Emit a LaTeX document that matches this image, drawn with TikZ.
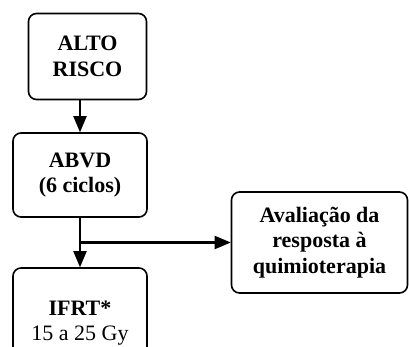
\documentclass[tikz,border=0pt]{standalone}
\usepackage{fontspec}
\setmainfont{Liberation Serif}
\usetikzlibrary{arrows}

\begin{document}
\begin{tikzpicture}[x = 1pt, y = -1pt, font = \fontsize{22}{25.5}\selectfont]
	\tikzstyle{stageStyle} = [shape = rectangle, rounded corners = 8pt, draw, line width = 1.6pt, align = center, inner sep = 0pt]
	\tikzstyle{flowStyle} = [line width = 2.8pt, -triangle 45]
	\useasboundingbox (0,0) rectangle (409,347);
	\node[stageStyle, minimum width = 118pt, minimum height = 86pt] (alto) at (87.5, 56.5) {\textbf{ALTO}\\\textbf{RISCO}};
	\node[stageStyle, minimum width = 134pt, minimum height = 84pt] (abvd) at (80, 175) {\textbf{ABVD}\\\textbf{(6 ciclos)}};
	\node[stageStyle, minimum width = 134pt, minimum height = 110pt] (ifrt) at (80, 323) {\textbf{IFRT*}\\15 a 25 Gy};
	\node[stageStyle, minimum width = 176pt, minimum height = 101pt] (aval) at (319.5, 242.5) {\textbf{Avaliação da}\\\textbf{resposta à}\\\textbf{quimioterapia}};
	\coordinate (branch) at (80, 242.5);
	\draw[flowStyle] (alto.south -| abvd.north) -- (abvd.north);
	\draw[flowStyle] (abvd.south) -- (ifrt.north);
	\draw[flowStyle] (branch) -- (aval.west);
\end{tikzpicture}
\end{document}
